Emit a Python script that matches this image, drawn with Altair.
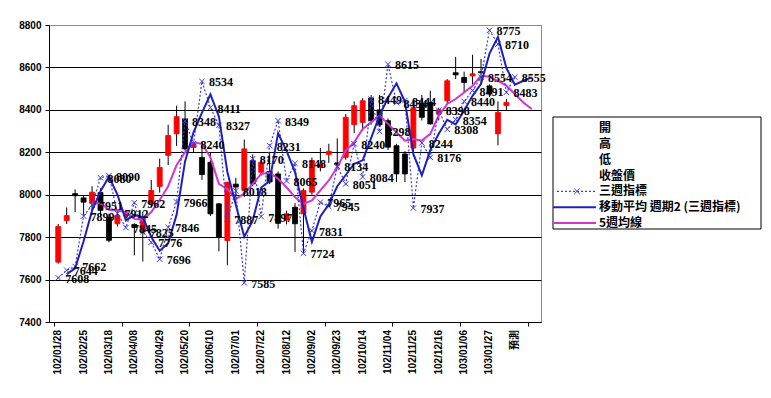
import altair as alt
import pandas as pd

# ---------------- data ----------------
tick_labels = ["102/01/28", "102/02/25", "102/03/18", "102/04/08", "102/04/29",
               "102/05/20", "102/06/10", "102/07/01", "102/07/22", "102/08/12",
               "102/09/02", "102/09/23", "102/10/14", "102/11/04", "102/11/25",
               "102/12/16", "103/01/06", "103/01/27", "預測"]

opens = [7682, 7878, 8005, 7985, 7960, 8010, 7894, 7863, 7900, 7860,
         7824, 7957, 8039, 8185, 8287, 8357, 8222, 8176, 8153, 7957,
         7784, 8050, 8020, 8161, 8106, 8110, 8098, 7880, 7941, 7910,
         8012, 8130, 8190, 8150, 8176, 8330, 8341, 8456, 8400, 8349,
         8231, 8192, 8220, 8428, 8435, 8380, 8443, 8575, 8553, 8560,
         8580, 8513, 8287, 8420]
highs = [7862, 7940, 8025, 7995, 8040, 8030, 7910, 7930, 7925, 7865,
         7920, 8070, 8170, 8330, 8420, 8440, 8250, 8250, 8200, 7960,
         8060, 8080, 8260, 8190, 8170, 8200, 8110, 7925, 7960, 8030,
         8175, 8220, 8240, 8265, 8380, 8440, 8455, 8470, 8470, 8360,
         8240, 8205, 8420, 8470, 8490, 8410, 8545, 8650, 8580, 8660,
         8640, 8520, 8440, 8450]
lows = [7675, 7862, 7918, 7905, 7925, 7900, 7775, 7850, 7880, 7714,
        7685, 7940, 8010, 8140, 8230, 8208, 8200, 8070, 7900, 7733,
        7667, 7970, 7990, 8040, 8090, 8050, 7840, 7860, 7730, 7720,
        8000, 8110, 8150, 8120, 8165, 8290, 8300, 8330, 8320, 8210,
        8060, 8060, 8180, 8350, 8330, 8350, 8430, 8545, 8480, 8520,
        8520, 8460, 8233, 8400]
closes = [7850, 7902, 7995, 7965, 8012, 7926, 7785, 7902, 7912, 7845,
          7894, 8020, 8129, 8279, 8368, 8216, 8240, 8095, 7910, 7800,
          8059, 8036, 8216, 8051, 8153, 8060, 7865, 7910, 7863, 8020,
          8161, 8146, 8205, 8140, 8365, 8420, 8443, 8349, 8330, 8224,
          8098, 8098, 8410, 8365, 8334, 8400, 8537, 8565, 8529, 8570,
          8575, 8475, 8388, 8435]

# three-week indicator (weeks 0..54)
indicator = [7608, 7644, 7662, 7899, 7951, 8080, 8090, 7912, 7845, 7962,
             7825, 7776, 7696, 7846, 7966, 8348, 8240, 8534, 8411, 8327,
             7887, 8018, 7585, 8170, 7897, 8231, 8349, 8065, 8148, 7724,
             7831, 7965, 7945, 8134, 8051, 8240, 8084, 8449, 8298, 8615,
             8434, 8444, 7937, 8244, 8176, 8398, 8308, 8354, 8440, 8491,
             8554, 8775, 8710, 8483, 8555]

# 2-period moving average line (weeks 1..56)
ma2 = [7626, 7653, 7781, 7925, 8016, 8085, 8001, 7879, 7904, 7894,
       7801, 7736, 7771, 7906, 8157, 8294, 8387, 8473, 8369, 8107,
       7953, 7802, 7878, 8034, 8064, 8290, 8207, 8107, 7936, 7778,
       7898, 7955, 8040, 8093, 8146, 8162, 8267, 8374, 8457, 8525,
       8439, 8191, 8091, 8210, 8287, 8353, 8331, 8397, 8466, 8523,
       8665, 8743, 8597, 8519, 8537, 8553]

# 5-week average line (weeks 4..56)
ma5 = [7957, 7960, 7929, 7926, 7918, 7886, 7882, 7918, 7975, 8040,
       8140, 8200, 8247, 8240, 8176, 8051, 8027, 7980, 8005, 8051,
       8098, 8103, 8075, 8035, 7988, 7957, 7973, 8020, 8067, 8129,
       8208, 8247, 8310, 8341, 8373, 8334, 8294, 8255, 8263, 8255,
       8287, 8373, 8428, 8451, 8482, 8514, 8561, 8556, 8537, 8514,
       8475, 8435, 8404]

legend_labels = ["開", "高", "低", "收盤價", "三週指標",
                 "移動平均 週期2 (三週指標)", "5週均線"]

# ---------------- tables ----------------
cdf = pd.DataFrame({"open": opens, "high": highs, "low": lows, "close": closes})
cdf["x"] = [k + 0.5 for k in range(len(opens))]
cdf["dir"] = ["up" if c >= o else "down" for o, c in zip(opens, closes)]

ind_df = pd.DataFrame({"x": [k + 0.5 for k in range(len(indicator))], "v": indicator})
ma2_df = pd.DataFrame({"x": [k + 1.5 for k in range(len(ma2))], "v": ma2})
ma5_df = pd.DataFrame({"x": [k + 4.5 for k in range(len(ma5))], "v": ma5})
tick_df = pd.DataFrame({"label": tick_labels, "x": [3 * k + 0.5 for k in range(len(tick_labels))]})
leg_df = pd.DataFrame({"label": legend_labels, "row": list(range(len(legend_labels)))})
box_df = pd.DataFrame({"a": [0]})

N = 57
xscale = alt.Scale(domain=[0, N], nice=False, zero=False)
yscale = alt.Scale(domain=[7400, 8800], nice=False, zero=False)

sans = "Liberation Sans, Noto Sans CJK TC"

xaxis = alt.Axis(values=list(range(N + 1)), labels=False,
                 grid=False, tickSize=4, tickColor="black", domainColor="black",
                 title=None)
yaxis = alt.Axis(values=list(range(7400, 8801, 200)), format="d",
                 grid=True,
                 gridColor={"condition": {"test": "datum.value == 8800", "value": "#8a8a8a"},
                            "value": "#000000"},
                 tickSize=4, tickColor="black", domainColor="black",
                 labelFont=sans, labelFontSize=10, labelFontWeight="bold",
                 labelColor="black", labelPadding=4, title=None)

BLUE_DOT = "#3a3ae0"
BLUE = "#1f1fc0"
MAGENTA = "#d335d3"
RED = "#ff0000"

wick = alt.Chart(cdf).mark_rule(color="black", strokeWidth=1).encode(
    x=alt.X("x:Q", scale=xscale, axis=xaxis),
    y=alt.Y("low:Q", scale=yscale, axis=yaxis),
    y2="high:Q")

body = alt.Chart(cdf).mark_bar(size=5, strokeWidth=0.8).encode(
    x=alt.X("x:Q", scale=xscale, title=None),
    y=alt.Y("open:Q", scale=yscale, title=None),
    y2="close:Q",
    color=alt.Color("dir:N", scale=alt.Scale(domain=["up", "down"], range=[RED, "#000000"]), legend=None),
    stroke=alt.Stroke("dir:N", scale=alt.Scale(domain=["up", "down"], range=[RED, "#000000"]), legend=None))

ma5_line = alt.Chart(ma5_df).mark_line(color=MAGENTA, strokeWidth=2).encode(
    x=alt.X("x:Q", scale=xscale, title=None),
    y=alt.Y("v:Q", scale=yscale, title=None))

ind_line = alt.Chart(ind_df).mark_line(color=BLUE_DOT, strokeWidth=1.2, strokeDash=[2, 2]).encode(
    x=alt.X("x:Q", scale=xscale, title=None),
    y=alt.Y("v:Q", scale=yscale, title=None))

XSHAPE = "M-1,-1L1,1M-1,1L1,-1"
ind_pts = alt.Chart(ind_df).mark_point(shape=XSHAPE, filled=False, size=30,
                                       color=BLUE_DOT, strokeWidth=1, opacity=1).encode(
    x=alt.X("x:Q", scale=xscale, title=None),
    y=alt.Y("v:Q", scale=yscale, title=None))

ma2_line = alt.Chart(ma2_df).mark_line(color=BLUE, strokeWidth=2).encode(
    x=alt.X("x:Q", scale=xscale, title=None),
    y=alt.Y("v:Q", scale=yscale, title=None))

ind_text = alt.Chart(ind_df).mark_text(align="left", baseline="middle", dx=7, dy=1,
                                       font="Liberation Serif", fontSize=12,
                                       fontWeight="bold", color="black").encode(
    x=alt.X("x:Q", scale=xscale, title=None),
    y=alt.Y("v:Q", scale=yscale, title=None),
    text=alt.Text("v:Q", format="d"))

# category labels under the axis (rotated, reading bottom to top)
xlab = alt.Chart(tick_df).mark_text(angle=270, align="right", baseline="middle",
                                    font=sans, fontSize=10, fontWeight="bold",
                                    color="black").encode(
    x=alt.X("x:Q", scale=xscale, title=None),
    y=alt.value(305),
    text="label:N")

main = alt.layer(wick, body, ma5_line, ind_line, ind_pts, ma2_line, ind_text, xlab)

# ---------------- legend ----------------
ly = alt.Y("row:Q", scale=alt.Scale(domain=[0, 6], range=[103, 198]), axis=None)

box = alt.Chart(box_df).mark_rect(fill="white", stroke="black", strokeWidth=1).encode(
    x=alt.value(504), x2=alt.value(712), y=alt.value(92), y2=alt.value(204))

leg_text = alt.Chart(leg_df).mark_text(align="left", baseline="middle",
                                       font="Noto Sans CJK TC", fontSize=12,
                                       fontWeight="bold", color="black").encode(
    x=alt.value(550), y=ly, text="label:N")

leg_dot = alt.Chart(leg_df).transform_filter("datum.row == 4").mark_rule(
    color=BLUE_DOT, strokeWidth=1.2, strokeDash=[2, 2]).encode(
    x=alt.value(508), x2=alt.value(547), y=ly)
leg_x = alt.Chart(leg_df).transform_filter("datum.row == 4").mark_point(
    shape=XSHAPE, filled=False, size=30, color=BLUE_DOT, strokeWidth=1, opacity=1).encode(
    x=alt.value(528), y=ly)
leg_blue = alt.Chart(leg_df).transform_filter("datum.row == 5").mark_rule(
    color=BLUE, strokeWidth=2).encode(x=alt.value(504), x2=alt.value(547), y=ly)
leg_mag = alt.Chart(leg_df).transform_filter("datum.row == 6").mark_rule(
    color=MAGENTA, strokeWidth=2).encode(x=alt.value(504), x2=alt.value(547), y=ly)

legend = alt.layer(box, leg_dot, leg_x, leg_blue, leg_mag, leg_text)

chart = alt.layer(main, legend).resolve_scale(y="independent").properties(
    width=492, height=297,
    padding={"left": 41, "top": 17, "right": 222, "bottom": 68},
    autosize=alt.AutoSizeParams(type="none"),
    background="white",
).configure_view(stroke="#8a8a8a", strokeWidth=1)

chart.save("out.html", embed_options={"renderer": "svg", "actions": False})
